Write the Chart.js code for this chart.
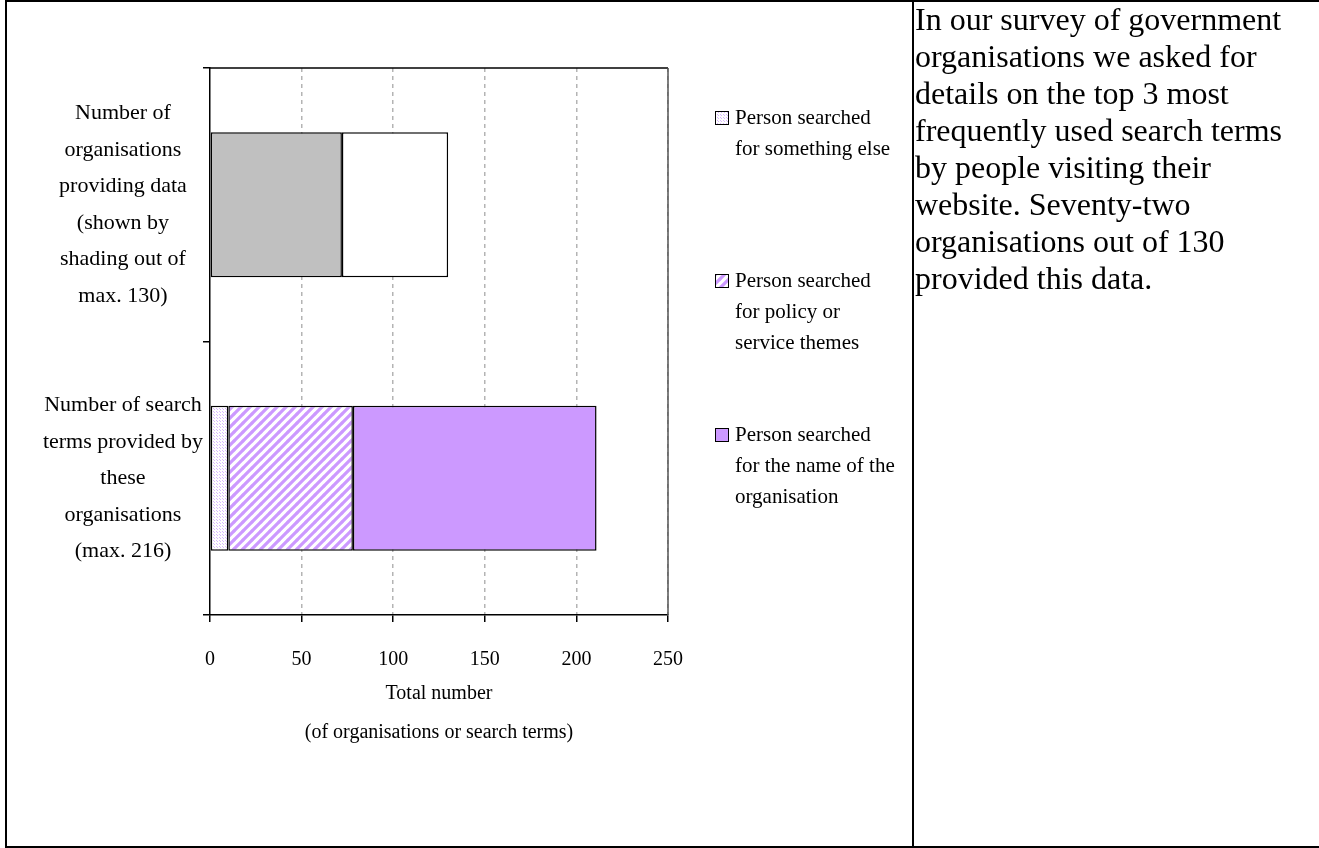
<!DOCTYPE html>
<html>
<head>
<meta charset="utf-8">
<script src="https://cdn.jsdelivr.net/npm/chart.js@4.4.1/dist/chart.umd.min.js"></script>
<style>
  body { margin: 0; background: #fff; }
  #chart-box { position: absolute; left: 0; top: 0; width: 912px; height: 846px; }
  #frame { position: absolute; left: 5px; top: 0; width: 1400px; height: 844px; border: 2px solid #000; }
  #divider { position: absolute; left: 912px; top: 0; width: 2px; height: 848px; background: #000; }
  #note { position: absolute; left: 915px; top: 1px; width: 390px; font: 32px "Liberation Serif", "Times New Roman", serif; color: #000; }
</style>
</head>
<body>
<div id="chart-box"><canvas id="search-chart"></canvas></div>
<div id="frame"></div>
<div id="divider"></div>
<div id="note">In our survey of government organisations we asked for details on the top 3 most frequently used search terms by people visiting their website. Seventy-two organisations out of 130 provided this data.</div>

<script>
// Categories (wrapped the same way as the original labels)
const categories = [
    ['Number of', 'organisations', 'providing data', '(shown by', 'shading out of', 'max. 130)'],
    ['Number of search', 'terms provided by', 'these', 'organisations', '(max. 216)']
];

// Organisations: 72 of a possible 130 provided data
const orgsProviding = [72, null];
const orgsMax = 130;

// Search terms split by what the person searched for
const somethingElse = [null, 10];
const policyThemes = [null, 68];
const orgName = [null, 133];

const legendLabels = [
    ['Person searched', 'for something else'],
    ['Person searched', 'for policy or', 'service themes'],
    ['Person searched', 'for the name of the', 'organisation']
];

const xTicks = [0, 50, 100, 150, 200, 250];

const purple = '#cc99ff';
const serif = '"Liberation Serif", "Times New Roman", serif';

// fill patterns like the old excel ones
function dotPattern() {
    const c = document.createElement('canvas');
    c.width = 3; c.height = 3;
    const g = c.getContext('2d');
    g.fillStyle = '#fff';
    g.fillRect(0, 0, 3, 3);
    g.fillStyle = '#d9b8ff';
    g.fillRect(1, 1, 1, 1);
    g.fillRect(0, 0, 1, 1);
    return g.createPattern(c, 'repeat');
}

function hatchPattern() {
    const c = document.createElement('canvas');
    c.width = 9; c.height = 9;
    const g = c.getContext('2d');
    g.fillStyle = '#fff';
    g.fillRect(0, 0, 9, 9);
    g.strokeStyle = purple;
    g.lineWidth = 3.2;
    g.beginPath();
    g.moveTo(-1, 10); g.lineTo(10, -1);
    g.moveTo(-1, 1); g.lineTo(1, -1);
    g.moveTo(8, 10); g.lineTo(10, 8);
    g.stroke();
    return g.createPattern(c, 'repeat');
}

const dots = dotPattern();
const hatch = hatchPattern();

// Frame round the plot: black top, grey right
const framePlugin = {
    id: 'plotFrame',
    afterDatasetsDraw(chart) {
        const {ctx, chartArea: a} = chart;
        ctx.save();
        ctx.lineWidth = 1.5;
        ctx.strokeStyle = '#000';
        ctx.beginPath();
        ctx.moveTo(a.left, a.top);
        ctx.lineTo(a.right, a.top);
        ctx.stroke();
        ctx.strokeStyle = '#555';
        ctx.beginPath();
        ctx.moveTo(a.right, a.top);
        ctx.lineTo(a.right, a.bottom);
        ctx.stroke();
        ctx.restore();
    }
};

// Legend to the right of the plot, wrapped text
const legendTops = [50, 213, 367];
const sideLegend = {
    id: 'sideLegend',
    afterDraw(chart) {
        const {ctx, chartArea: a} = chart;
        const items = chart.data.datasets.filter(d => d.legend);
        ctx.save();
        ctx.font = '21px ' + serif;
        ctx.textBaseline = 'middle';
        ctx.textAlign = 'left';
        items.forEach((ds, i) => {
            const x = a.right + 47;
            const y = a.top + legendTops[i];
            ctx.fillStyle = ds.backgroundColor;
            ctx.fillRect(x, y - 7, 14, 14);
            ctx.strokeStyle = '#000';
            ctx.lineWidth = 1;
            ctx.strokeRect(x + 0.5, y - 6.5, 13, 13);
            ctx.fillStyle = '#000';
            ds.legend.forEach((line, j) => {
                ctx.fillText(line, x + 20, y + j * 31);
            });
        });
        ctx.restore();
    }
};

function initChart() {
    const ctx = document.getElementById('search-chart').getContext('2d');
    const bar = {borderColor: '#000', borderWidth: 1.5, borderSkipped: false};
    new Chart(ctx, {
        type: 'bar',
        data: {
            labels: categories,
            datasets: [
                {...bar, label: 'Providing data', data: orgsProviding, backgroundColor: '#c0c0c0'},
                {...bar, label: 'Not providing', data: orgsProviding.map(v => v === null ? null : orgsMax - v), backgroundColor: '#fff'},
                {...bar, label: 'Something else', data: somethingElse, backgroundColor: dots, legend: legendLabels[0]},
                {...bar, label: 'Policy or service themes', data: policyThemes, backgroundColor: hatch, legend: legendLabels[1]},
                {...bar, label: 'Name of the organisation', data: orgName, backgroundColor: purple, legend: legendLabels[2]}
            ]
        },
        options: {
            indexAxis: 'y',
            responsive: true,
            maintainAspectRatio: false,
            animation: false,
            categoryPercentage: 1,
            barPercentage: 0.53,
            layout: {padding: {top: 68, right: 244, bottom: 90, left: 10}},
            plugins: {
                legend: {display: false},
                tooltip: {enabled: false}
            },
            scales: {
                x: {
                    stacked: true,
                    min: 0,
                    max: 250,
                    afterBuildTicks: scale => { scale.ticks = xTicks.map(v => ({value: v})); },
                    afterFit: scale => { scale.height = 141; },
                    grid: {
                        color: c => c.tick && c.tick.value === 0 ? 'rgba(0,0,0,0)' : '#b4b4b4',
                        lineWidth: 1.5,
                        tickColor: '#000',
                        tickLength: 7,
                        tickWidth: 1.5
                    },
                    border: {color: '#000', width: 1.5, dash: [4, 4]},
                    ticks: {
                        color: '#000',
                        padding: 26,
                        font: {family: serif, size: 20, lineHeight: 1.2}
                    },
                    title: {
                        display: true,
                        text: ['Total number', '(of organisations or search terms)'],
                        color: '#000',
                        font: {family: serif, size: 20, lineHeight: 1.95}
                    }
                },
                y: {
                    stacked: true,
                    afterFit: scale => {
                        scale.width = 200;
                        scale.paddingTop = 0;
                        scale.paddingBottom = 0;
                    },
                    grid: {
                        offset: true,
                        drawOnChartArea: false,
                        color: '#000',
                        tickLength: 7,
                        lineWidth: 1.5
                    },
                    border: {color: '#000', width: 1.5},
                    ticks: {
                        color: '#000',
                        padding: 0,
                        crossAlign: 'center',
                        font: {family: serif, size: 22, lineHeight: 1.66}
                    }
                }
            }
        },
        plugins: [framePlugin, sideLegend]
    });
}

document.addEventListener('DOMContentLoaded', () => {
    initChart();
});
</script>
</body>
</html>
